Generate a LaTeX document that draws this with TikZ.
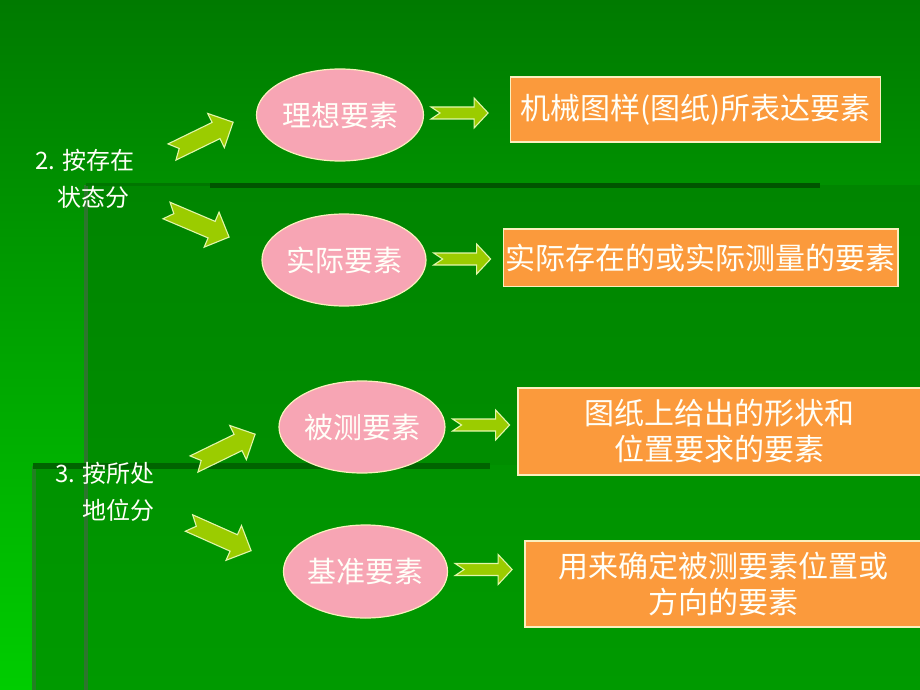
\documentclass[tikz,border=0pt]{standalone}
\usepackage{fontspec}
\setmainfont{Noto Sans CJK SC}
\usetikzlibrary{shapes.geometric,calc}
\definecolor{bgtop}{RGB}{0,122,0}
\definecolor{bgbot}{RGB}{0,205,0}
\definecolor{panelAtop}{RGB}{0,133,0}
\definecolor{panelAbot}{RGB}{0,148,0}
\definecolor{panelBtop}{RGB}{0,146,0}
\definecolor{panelBbot}{RGB}{0,154,0}
\definecolor{shadowdark}{RGB}{0,84,0}
\definecolor{shadowmid}{RGB}{0,100,0}
\definecolor{shadowfaint}{RGB}{0,118,0}
\definecolor{edgegray}{RGB}{45,118,45}
\definecolor{edgegrayB}{RGB}{35,128,35}
\definecolor{pinkfill}{RGB}{247,165,180}
\definecolor{orangefill}{RGB}{251,154,60}
\definecolor{limefill}{RGB}{155,204,0}
\definecolor{limeline}{RGB}{226,246,170}
\definecolor{paleline}{RGB}{250,240,190}
\definecolor{txt}{RGB}{255,255,248}
\begin{document}
\begin{tikzpicture}[x=1pt,y=-1pt,
  oval/.style={ellipse, fill=pinkfill, draw=paleline, line width=1.2pt, inner sep=0pt, text=txt, font=\fontsize{29}{35}\selectfont},
  infobox/.style={rectangle, fill=orangefill, draw=paleline, line width=1.2pt, inner sep=0pt, text=txt, align=center, font=\fontsize{30}{36}\selectfont},
  sidelabel/.style={anchor=west, inner sep=0pt, text=txt, align=left, font=\fontsize{24}{37}\selectfont},
  limearrow/.style={fill=limefill, draw=limeline, line width=1.1pt, line join=miter},
  bigarrow/.pic={\path[limearrow] (0,-9) -- (49,-9) -- (49,-19) -- (68,0) -- (49,19) -- (49,9) -- (0,9) -- (8,0) -- cycle;},
  smallarrow/.pic={\path[limearrow] (0,-6) -- (43,-6) -- (43,-15) -- (57,0) -- (43,15) -- (43,6) -- (0,6) -- (9,0) -- cycle;}
]
\useasboundingbox (0,0) rectangle (920,690);
% background panels
\shade[top color=bgtop, bottom color=bgbot] (0,0) rectangle (920,690);
\shade[top color=panelAtop, bottom color=panelAbot] (85,185) rectangle (920,690);
\shade[top color=panelBtop, bottom color=panelBbot] (33,465) rectangle (920,690);
\draw[edgegray, line width=4pt] (86,185) -- (86,690);
\draw[shadowfaint, line width=3pt] (86,184) -- (210,184);
\draw[shadowdark, line width=5pt] (210,185) -- (820,185);
\draw[edgegrayB, line width=4pt] (34,466) -- (34,690);
\draw[shadowmid, line width=6pt] (33,466) -- (490,466);

% side labels
\node[sidelabel] (lab2) at (35,178.5) {2. 按存在\\\hspace*{22pt}状态分};
\node[sidelabel] (lab3) at (55,491.5) {3. 按所处\\\hspace*{27pt}地位分};

% ellipses
\node[oval, minimum width=167, minimum height=92] (e1) at (340,115) {理想要素};
\node[oval, minimum width=160, minimum height=92] (e2) at (344,260) {实际要素};
\node[oval, minimum width=166, minimum height=92] (e3) at (362,427) {被测要素};
\node[oval, minimum width=159, minimum height=93] (e4) at (365.5,571.5) {基准要素};

% boxes
\node[infobox, minimum width=370, minimum height=65] (b1) at (695.5,109.5) {机械图样(图纸)所表达要素};
\node[infobox, minimum width=394.5, minimum height=57.5] (b2) at (700.75,257.75) {实际存在的或实际测量的要素};
\node[infobox, minimum width=403, minimum height=87] (b3) at (719.5,431.5) {图纸上给出的形状和\\位置要求的要素};
\node[infobox, minimum width=396, minimum height=86] (b4) at (723,584) {用来确定被测要素位置或\\方向的要素};

% small arrows between ellipses and boxes
\pic at ($(e1.east)+(7,-2)$) {smallarrow};
\pic at ($(e2.east)+(7,-1)$) {smallarrow};
\pic at ($(e3.east)+(7,-2)$) {smallarrow};
\pic at ($(e4.east)+(7,-2)$) {smallarrow};

% diagonal arrows from labels to ellipses
\pic[rotate=26] at (172,152) {bigarrow};
\pic[rotate=-23] at (166.5,210.5) {bigarrow};
\pic[rotate=26] at (194,464) {bigarrow};
\pic[rotate=-24] at (189,523) {bigarrow};
\end{tikzpicture}
\end{document}
